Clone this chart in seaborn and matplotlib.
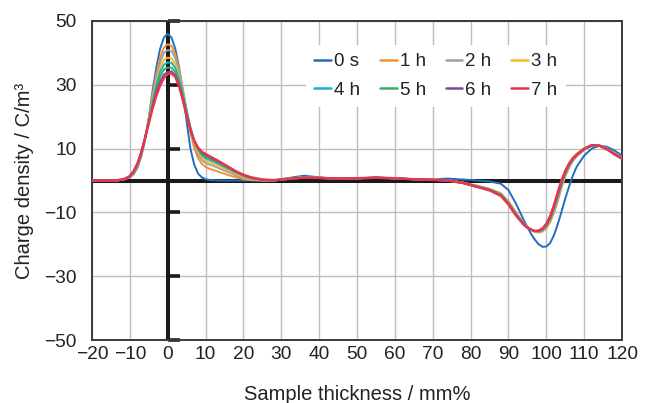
import numpy as np
import pandas as pd
import matplotlib
matplotlib.use("Agg")
import matplotlib.pyplot as plt
import seaborn as sns

# ---------------- data ----------------
x_mm = [-20, -14, -12, -11, -10, -9, -8, -7, -6, -5, -4, -3, -2, -1, 0, 1, 2, 3, 4, 5, 6, 7, 8, 9, 10, 11, 12,
        14, 16, 18, 20, 22, 25, 28, 32, 36, 40, 45, 50, 55, 60, 65, 70, 74, 78, 82, 85, 88, 90, 92,
        94, 95, 96, 97, 98, 99, 100, 101, 102, 103, 104, 105, 106, 107, 108, 110, 112, 114, 116, 118, 120]

labels = ["0 s", "1 h", "2 h", "3 h", "4 h", "5 h", "6 h", "7 h"]

s0 = [0, 0, 0.2, 0.5, 1.0, 2.0, 4.0, 7.5, 12.5, 19.5, 28.0, 35.5, 41.3, 44.8, 46.0, 44.8, 41.3, 35.5, 28.0, 18.5, 10.0, 5.0, 2.2, 1.0, 0.4, 0.2, 0.1,
      0, 0, 0, 0, 0, 0, 0.1, 0.8, 1.5, 1.0, 0.5, 0.6, 0.8, 0.6, 0.4, 0.4, 0.6, 0.3, 0.0, -0.3, -1.0, -3.0, -7.3,
      -12.3, -14.6, -16.8, -18.6, -20.0, -20.8, -20.7, -19.6, -17.2, -13.8, -9.8, -5.7, -1.9, 1.5, 4.3, 7.8, 10.0, 10.9, 10.6, 9.4, 7.8]
s1 = [0, 0, 0.2, 0.55, 1.1, 2.3, 4.4, 8.0, 13.0, 19.5, 26.8, 33.5, 38.6, 41.7, 42.7, 42.2, 39.6, 34.8, 28.5, 21.5, 15.0, 10.2, 7.0, 5.3, 4.3, 3.7, 3.3,
      2.5, 1.7, 1.0, 0.4, 0.1, 0, 0, 0.6, 1.1, 0.9, 0.6, 0.7, 0.9, 0.7, 0.4, 0.3, 0.1, -0.6, -1.7, -2.6, -4.0, -6.5, -10.0,
      -13.3, -14.6, -15.5, -16.1, -16.3, -16.0, -15.0, -13.1, -10.2, -6.5, -2.4, 1.3, 4.0, 6.1, 7.5, 9.6, 10.9, 11.0, 10.1, 8.6, 7.1]
s2 = [0, 0, 0.2, 0.6, 1.2, 2.4, 4.6, 8.2, 13.1, 19.3, 26.0, 32.2, 37.0, 40.0, 40.9, 40.6, 38.4, 34.2, 28.5, 22.0, 16.0, 11.3, 8.2, 6.5, 5.5, 5.0, 4.6,
      3.6, 2.6, 1.6, 0.8, 0.3, 0, 0, 0.6, 1.0, 0.9, 0.6, 0.7, 0.9, 0.7, 0.4, 0.3, 0.1, -0.7, -1.8, -2.7, -4.1, -6.7, -10.2,
      -13.4, -14.6, -15.5, -16.0, -16.2, -15.8, -14.8, -12.8, -9.8, -6.0, -2.0, 1.6, 4.2, 6.3, 7.6, 9.7, 10.9, 11.0, 10.0, 8.5, 7.0]
s3 = [0, 0, 0.2, 0.6, 1.2, 2.5, 4.8, 8.4, 13.2, 19.0, 25.2, 30.9, 35.3, 37.8, 38.5, 38.3, 36.5, 32.8, 27.8, 22.0, 16.5, 12.0, 9.1, 7.4, 6.3, 5.8, 5.3,
      4.3, 3.2, 2.1, 1.2, 0.5, 0.1, 0, 0.6, 1.0, 0.8, 0.6, 0.7, 0.9, 0.7, 0.4, 0.3, 0.1, -0.7, -1.9, -2.8, -4.3, -6.8, -10.3,
      -13.5, -14.7, -15.5, -16.0, -16.1, -15.7, -14.5, -12.5, -9.4, -5.6, -1.6, 1.9, 4.4, 6.4, 7.7, 9.7, 11.0, 11.0, 10.0, 8.5, 7.0]
s4 = [0, 0, 0.25, 0.65, 1.25, 2.6, 4.9, 8.5, 13.2, 18.7, 24.6, 29.9, 34.0, 36.3, 37.0, 36.9, 35.3, 32.0, 27.2, 21.8, 16.6, 12.4, 9.7, 8.0, 7.0, 6.5, 6.0,
      4.9, 3.7, 2.5, 1.5, 0.7, 0.15, 0, 0.5, 1.0, 0.8, 0.6, 0.7, 0.9, 0.7, 0.4, 0.2, 0.0, -0.7, -1.9, -2.8, -4.4, -7.0, -10.5,
      -13.55, -14.7, -15.45, -15.95, -16.0, -15.5, -14.3, -12.15, -9.0, -5.15, -1.2, 2.15, 4.65, 6.55, 7.85, 9.8, 11.0, 10.95, 9.95, 8.4, 6.95]
s5 = [0, 0, 0.25, 0.65, 1.3, 2.7, 5.0, 8.6, 13.2, 18.5, 23.9, 28.8, 32.6, 34.8, 35.4, 35.4, 34.0, 30.9, 26.5, 21.3, 16.4, 12.5, 10.0, 8.5, 7.5, 7.0, 6.5,
      5.3, 4.0, 2.7, 1.6, 0.8, 0.2, 0, 0.5, 0.9, 0.8, 0.6, 0.7, 0.9, 0.7, 0.4, 0.2, 0.0, -0.8, -2.0, -2.9, -4.5, -7.2, -10.7,
      -13.6, -14.7, -15.4, -15.9, -15.9, -15.3, -14.1, -11.8, -8.6, -4.7, -0.8, 2.4, 4.9, 6.7, 8.0, 9.9, 11.0, 10.9, 9.9, 8.3, 6.9]
s6 = [0, 0, 0.3, 0.7, 1.35, 2.8, 5.2, 8.7, 13.2, 18.2, 23.2, 27.7, 31.0, 33.2, 34.0, 34.2, 33.0, 30.1, 25.8, 20.8, 16.1, 12.5, 10.1, 8.8, 8.0, 7.4, 6.8,
      5.5, 4.2, 2.8, 1.7, 0.9, 0.25, 0.05, 0.5, 0.9, 0.8, 0.6, 0.7, 0.9, 0.7, 0.4, 0.2, 0.0, -0.8, -2.0, -3.0, -4.7, -7.3, -10.8,
      -13.7, -14.8, -15.4, -15.85, -15.8, -15.2, -13.8, -11.5, -8.2, -4.25, -0.4, 2.7, 5.1, 6.85, 8.1, 9.95, 11.05, 10.9, 9.85, 8.25, 6.85]
s7 = [0, 0, 0.3, 0.7, 1.4, 2.9, 5.3, 8.8, 13.2, 18.0, 22.6, 26.6, 29.8, 32.2, 33.4, 33.6, 32.5, 29.6, 25.2, 20.2, 15.8, 12.5, 10.3, 9.0, 8.3, 7.6, 7.0,
      5.7, 4.3, 2.9, 1.8, 1.0, 0.3, 0.1, 0.5, 0.9, 0.8, 0.6, 0.7, 0.9, 0.7, 0.4, 0.2, 0.0, -0.8, -2.1, -3.1, -4.8, -7.5, -11.0,
      -13.8, -14.8, -15.4, -15.8, -15.7, -15.0, -13.6, -11.2, -7.8, -3.8, 0.0, 3.0, 5.3, 7.0, 8.2, 10.0, 11.1, 10.9, 9.8, 8.2, 6.8]

series = [s0, s1, s2, s3, s4, s5, s6, s7]
colors = ["#1f6fbf", "#f0913a", "#a0a0a0", "#f5b926", "#19b2c6", "#3aae5a", "#7a4b9c", "#e6354d"]

x_ticks = list(range(-20, 121, 10))
y_ticks = [-50, -30, -10, 10, 30, 50]

# ---------------- plot ----------------
sns.set_theme(style="white")
plt.rcParams["font.family"] = ["Liberation Sans", "DejaVu Sans"]
plt.rcParams["axes.unicode_minus"] = True

frames = []
for lab, vals in zip(labels, series):
    frames.append(pd.DataFrame({"x": x_mm, "y": vals, "series": lab}))
df = pd.concat(frames, ignore_index=True)

fig = plt.figure(figsize=(6.5, 4.03), dpi=100)
ax = fig.add_axes([0.1415, 0.1563, 0.8155, 0.7916])

for lab, col in zip(labels, colors):
    sub = df[df["series"] == lab]
    sns.lineplot(data=sub, x="x", y="y", ax=ax, color=col, label=lab,
                 lw=1.8 if lab == "7 h" else 1.4, estimator=None, sort=False, zorder=4)

ax.set_xlim(-20, 120)
ax.set_ylim(-50, 50)
ax.set_xticks(x_ticks)
ax.set_yticks(y_ticks)
ax.set_xticklabels([str(v).replace("-", "\u2212") for v in x_ticks])
ax.set_yticklabels([str(v).replace("-", "\u2212") for v in y_ticks])
ax.tick_params(axis="both", length=0, labelsize=13.8, colors="#222222")
ax.tick_params(axis="y", pad=11)
ax.tick_params(axis="x", pad=4)

ax.grid(True, color="#bdbdbd", lw=1.0, zorder=0)
ax.set_axisbelow(True)

for sp in ax.spines.values():
    sp.set_visible(True)
    sp.set_color("#3a3a3a")
    sp.set_linewidth(1.4)

ax.axhline(0, color="#1a1a1a", lw=2.9, zorder=2)
ax.axvline(0, color="#1a1a1a", lw=2.9, zorder=2)
ax.hlines(y_ticks, 0, 3.3, color="#1a1a1a", lw=2.6, zorder=2, clip_on=False)

ax.set_xlabel("Sample thickness / mm%", fontsize=14.5, color="#222222")
ax.set_ylabel("Charge density / C/m³", fontsize=14.5, color="#222222")
ax.xaxis.set_label_coords(0.5, -0.14)
ax.yaxis.set_label_coords(-0.11, 0.5)

handles, labs = ax.get_legend_handles_labels()
order = [0, 4, 1, 5, 2, 6, 3, 7]
leg = ax.legend([handles[i] for i in order], [labs[i] for i in order],
                loc="upper left", bbox_to_anchor=(0.386, 0.955), ncol=4,
                frameon=True, fancybox=False, facecolor="white", edgecolor="none",
                framealpha=1.0, fontsize=13.5, handlelength=0.9, handletextpad=0.15,
                columnspacing=1.05, labelspacing=0.6, borderpad=0.45)
for t in leg.get_texts():
    t.set_color("#222222")
for h in leg.get_lines():
    h.set_linewidth(1.8)

fig.savefig("out.png", dpi=100)
